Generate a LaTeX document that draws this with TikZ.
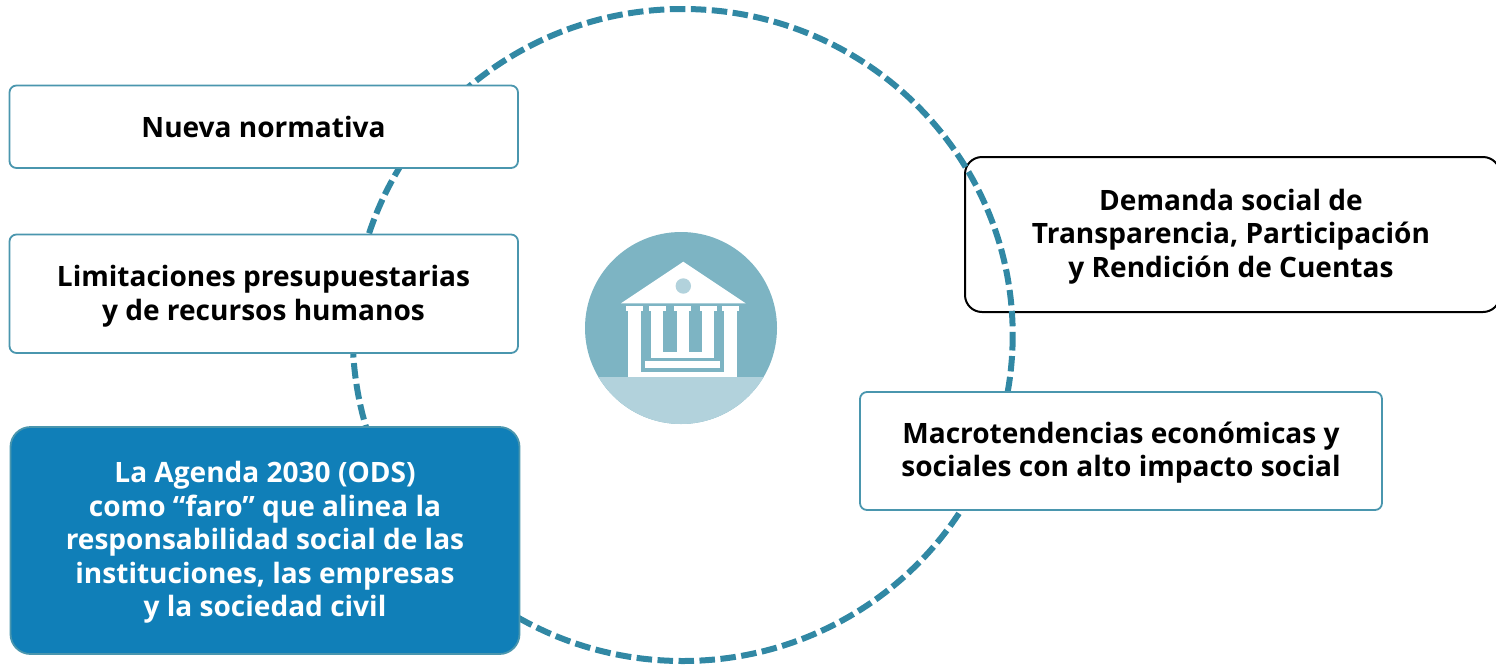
\documentclass[tikz,border=0pt]{standalone}
\usepackage{fontspec}
\setmainfont{Open Sans}[BoldFont={Open Sans Bold}]
\definecolor{ring}{HTML}{3188A4}
\definecolor{edge}{HTML}{4A96AE}
\definecolor{agenda}{HTML}{107FB8}
\definecolor{iconbg}{HTML}{7DB4C3}
\definecolor{iconlt}{HTML}{B2D2DC}
\tikzset{
  box/.style={draw=edge,line width=1.8pt,fill=white,rounded corners=7pt},
  label/.style={align=center,font=\fontsize{28.05}{33.6}\selectfont\bfseries,text=black,inner sep=0pt},
  whitepart/.style={fill=white,draw=none}
}
\begin{document}
\begin{tikzpicture}[x=1pt,y=-1pt]
\useasboundingbox (0,0) rectangle (1496,665);
% black-framed box lies under the ring
\draw[draw=black,line width=2pt,fill=white,rounded corners=17pt] (965,157) rectangle (1500,312);
\node[label] (demanda) at (1231,236.5) {Demanda social de\\Transparencia, Participación\\y Rendición de Cuentas};
% ring
\draw[ring,line width=6pt,dash pattern=on 15.5pt off 5.5pt] (682.7,335) ellipse[x radius=330,y radius=326];
% boxes
\draw[box] (9.5,85.5) rectangle (518,168);
\node[label] (nueva) at (263.5,127) {Nueva normativa};
\draw[box] (9.5,234.5) rectangle (518,353);
\node[label] (limit) at (263.5,296.5) {Limitaciones presupuestarias\\y de recursos humanos};
\draw[box,fill=agenda,rounded corners=20pt] (10.5,427) rectangle (519.5,654);
\node[label,text=white] (agendanode) at (265,542.5) {La Agenda 2030 (ODS)\\como “faro” que alinea la\\responsabilidad social de las\\instituciones, las empresas\\y la sociedad civil};
\draw[box] (860,392) rectangle (1382,510);
\node[label] (macro) at (1121,452.5) {Macrotendencias económicas y\\sociales con alto impacto social};
% icon
\fill[iconbg] (681,328) circle[radius=96];
\begin{scope}
\clip (681,328) circle[radius=96];
\fill[iconlt] (570,376.7) rectangle (790,430);
\end{scope}
\fill[whitepart] (683.3,261.7) -- (745.7,303.3) -- (621,303.3) -- cycle;
\fill[iconlt] (683.3,286) circle[radius=7.7];
\fill[whitepart] (626,306) rectangle (643.3,311);
\fill[whitepart] (722,306) rectangle (739.3,311);
\fill[whitepart] (628.3,311) rectangle (640.7,376.7);
\fill[whitepart] (724.3,311) rectangle (736.5,376.7);
\fill[whitepart] (628.3,371.7) rectangle (736.5,376.7);
\fill[whitepart] (648.7,306) rectangle (666,311);
\fill[whitepart] (674,306) rectangle (691.3,311);
\fill[whitepart] (699.7,306) rectangle (717,311);
\fill[whitepart] (651,311) rectangle (662.7,358.3);
\fill[whitepart] (677.3,311) rectangle (689,358.3);
\fill[whitepart] (702.3,311) rectangle (714,358.3);
\fill[whitepart] (651,352.3) rectangle (714,358.3);
\fill[whitepart] (645,361.3) rectangle (720,367.7);
\end{tikzpicture}
\end{document}
